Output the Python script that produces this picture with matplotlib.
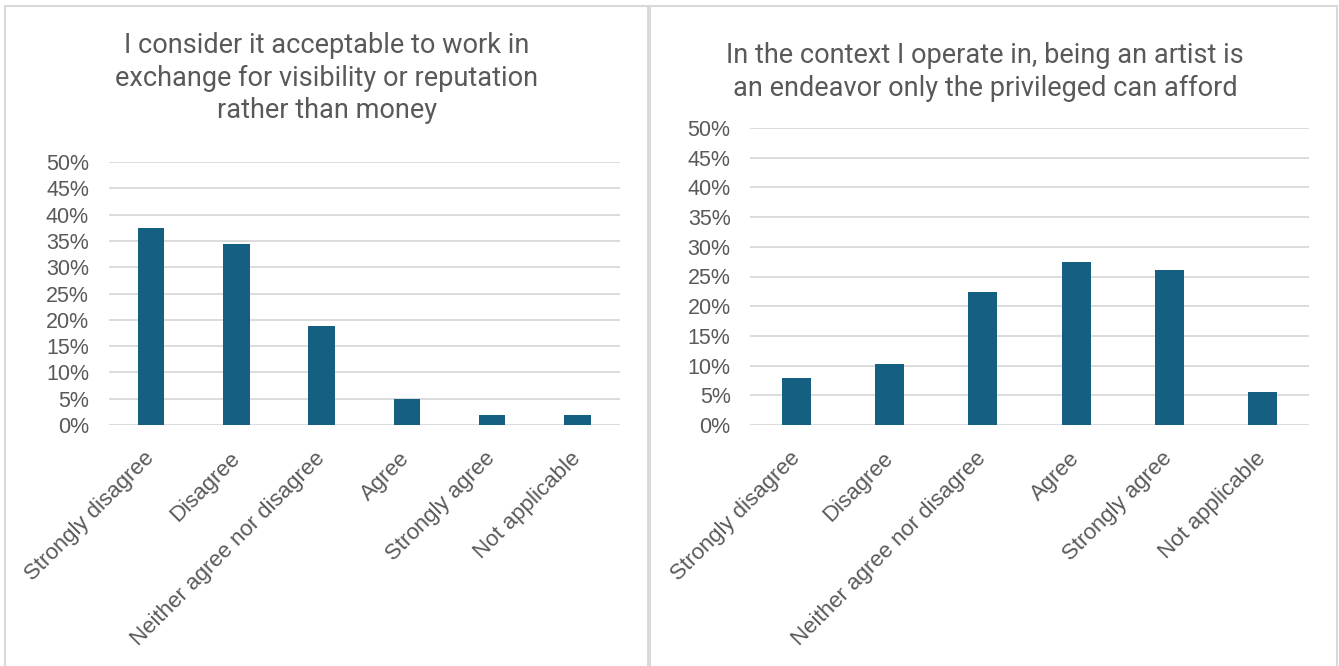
import matplotlib
matplotlib.use("Agg")
import matplotlib.pyplot as plt
from matplotlib.patches import Rectangle
from matplotlib.ticker import PercentFormatter, MultipleLocator

plt.rcParams['font.family'] = ['Roboto', 'DejaVu Sans']

categories = ["Strongly disagree", "Disagree", "Neither agree nor disagree",
              "Agree", "Strongly agree", "Not applicable"]
unpaid_work_share = [0.375, 0.345, 0.189, 0.049, 0.019, 0.019]
privilege_share = [0.079, 0.102, 0.224, 0.274, 0.261, 0.055]

title_left = "I consider it acceptable to work in\nexchange for visibility or reputation\nrather than money"
title_right = "In the context I operate in, being an artist is\nan endeavor only the privileged can afford"

BAR = "#156082"
GRID = "#D9D9D9"
TEXT = "#595959"
TICK_FONT = ["Liberation Sans", "DejaVu Sans"]

W, H = 1339, 666
fig = plt.figure(figsize=(W / 100, H / 100), dpi=100)
fig.patch.set_facecolor("white")

def px_rect(x0, y0, x1, y1):
    # convert pixel box (origin top-left) to figure fractions
    return [x0 / W, 1 - y1 / H, (x1 - x0) / W, (y1 - y0) / H]

# panel frames
for (x0, x1) in [(5, 648), (650, 1337)]:
    fig.add_artist(Rectangle((x0 / W, 0 - 0.01), (x1 - x0) / W, (H - 6) / H + 0.01,
                             transform=fig.transFigure, fill=False,
                             edgecolor=GRID, linewidth=1.5))

def draw(ax, values):
    x = list(range(len(categories)))
    ax.bar(x, values, width=0.31, color=BAR, zorder=3)
    ax.set_ylim(0, 0.5)
    ax.set_xlim(-0.5, len(categories) - 0.5)
    ax.yaxis.set_major_locator(MultipleLocator(0.05))
    ax.yaxis.set_major_formatter(PercentFormatter(1.0, decimals=0))
    ax.grid(axis="y", color=GRID, linewidth=1.3, zorder=0)
    for s in ax.spines.values():
        s.set_visible(False)
    ax.tick_params(axis="y", length=0, pad=14, labelcolor=TEXT)
    ax.tick_params(axis="x", length=0, pad=22, labelcolor=TEXT)
    for lab in ax.get_yticklabels():
        lab.set_fontfamily(TICK_FONT)
        lab.set_fontsize(15.5)
    ax.set_xticks(x)
    ax.set_xticklabels(categories, rotation=45, ha="right", va="center",
                       rotation_mode="anchor", fontsize=16, family=TICK_FONT)

ax1 = fig.add_axes(px_rect(108.5, 162, 620, 425))
draw(ax1, unpaid_work_share)
ax2 = fig.add_axes(px_rect(750, 128, 1309, 425))
draw(ax2, privilege_share)

fig.text(327 / W, 1 - 78 / H, title_left, ha="center", va="center",
         fontsize=19.5, color=TEXT, linespacing=1.27)
fig.text(985 / W, 1 - 72 / H, title_right, ha="center", va="center",
         fontsize=19.5, color=TEXT, linespacing=1.27)

fig.savefig("out.png", dpi=100, facecolor="white")
